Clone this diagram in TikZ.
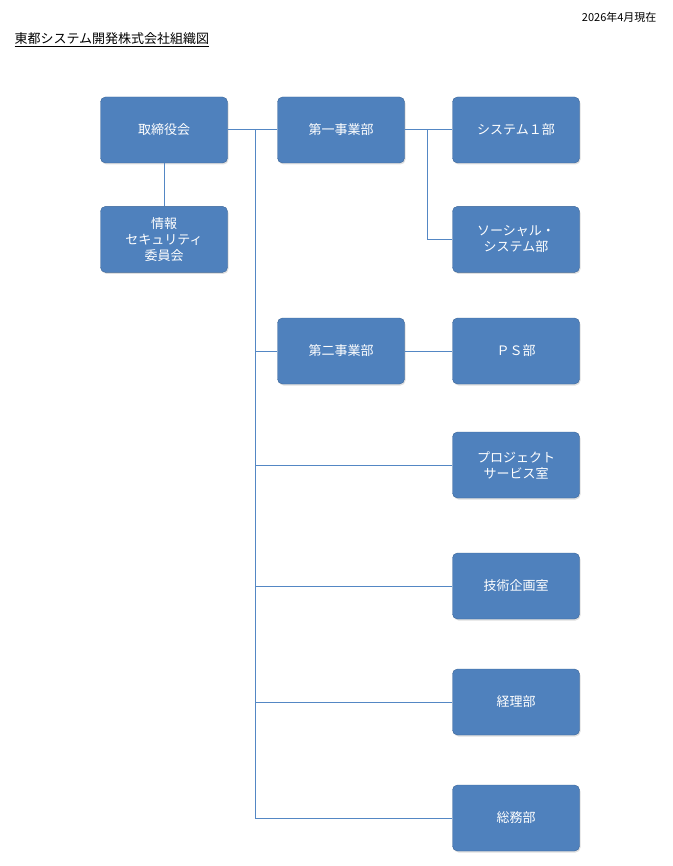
\documentclass[tikz,border=0pt]{standalone}
\usepackage{fontspec}
\setmainfont{Noto Sans CJK JP}
\usepackage{tikz}
\usetikzlibrary{positioning,shadows}
\definecolor{boxblue}{RGB}{79,129,189}
\definecolor{boxedge}{RGB}{58,100,150}
\definecolor{linkblue}{RGB}{84,135,196}

\begin{document}
\begin{tikzpicture}[
    x=1pt, y=-1pt,
    unit/.style={rectangle, draw=boxedge, rounded corners=5pt, minimum width=127pt, minimum height=66pt, align=center, fill=boxblue, text=white, font=\fontsize{13}{16}\selectfont, drop shadow={opacity=0.25, shadow xshift=1pt, shadow yshift=-1.5pt}},
    link/.style={draw=linkblue, line width=1pt}
]
\useasboundingbox (0,0) rectangle (672,866);

\node[anchor=east, font=\fontsize{11}{13}\selectfont] (date) at (660,17) {2026年4月現在};
\node[anchor=west, font=\fontsize{13}{15}\selectfont] (title) at (11,40) {\underline{東都システム開発株式会社組織図}};

\node[unit] (board) at (164,130) {取締役会};
\node[unit, below=43pt of board] (infosec) {情報\\セキュリティ\\委員会};
\node[unit] (div1) at (341,130) {第一事業部};
\node[unit] (sys1) at (516,130) {システム１部};
\node[unit, below=43pt of sys1] (social) {ソーシャル・\\システム部};
\node[unit] (div2) at (341,351) {第二事業部};
\node[unit] (ps) at (516,351) {ＰＳ部};
\node[unit] (pso) at (516,465) {プロジェクト\\サービス室};
\node[unit] (tech) at (516,586) {技術企画室};
\node[unit] (acct) at (516,702) {経理部};
\node[unit] (gen) at (516,818) {総務部};

\coordinate (trunk) at (255,130);
\draw[link] (board) -- (div1);
\draw[link] (board) -- (infosec);
\draw[link] (trunk) |- (div2);
\draw[link] (trunk) |- (pso);
\draw[link] (trunk) |- (tech);
\draw[link] (trunk) |- (acct);
\draw[link] (trunk) |- (gen);
\coordinate (fork) at (427,130);
\draw[link] (div1) -- (sys1);
\draw[link] (fork) |- (social);
\draw[link] (div2) -- (ps);
\end{tikzpicture}
\end{document}
